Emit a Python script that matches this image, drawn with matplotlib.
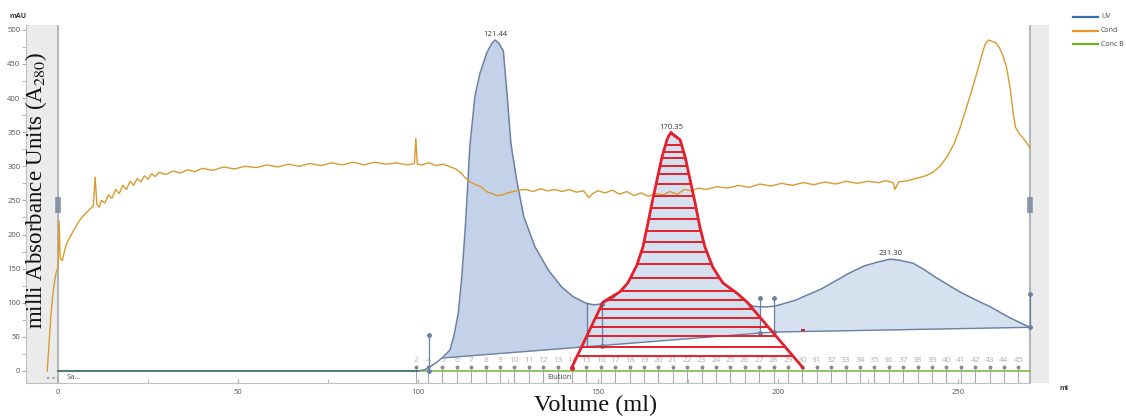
import numpy as np
import matplotlib.pyplot as plt
from matplotlib.lines import Line2D

plt.rcParams['font.family'] = ['Open Sans', 'DejaVu Sans']
plt.rcParams['mathtext.fontset'] = 'stix'

# UV trace (mAU) vs volume (ml)
uv_ml = [0, 50, 100, 102, 103, 105, 106.7, 108, 108.9, 110, 111.2, 112.2, 113.1, 113.8, 114.4,
         115.8, 117.2, 119.1, 120.5, 121.44, 122.5, 123.7, 124.8, 125.8, 127.4, 129.4, 132.5,
         136.2, 139.9, 143.1, 146.4, 147.0, 147.8, 149, 150.5, 152, 154, 156.1, 158.3, 160.8,
         162.5, 163.9, 165.0, 166.4, 167.8, 169.2, 170.35, 171.5, 172.8, 174.2, 175.6, 177.0,
         178.3, 179.7, 181.9, 184.7, 188.6, 191.4, 193, 195, 197, 199, 200.5, 205, 208, 212,
         216, 220, 224, 228, 231.3, 234, 237.5, 240.5, 243.6, 247, 250.5, 255, 259, 264.4, 270]
uv_val = [0, 0, 0, 2, 5, 12, 19, 26, 31, 52, 85, 140, 207, 270, 329,
          402, 436, 466, 480, 485, 480, 469, 402, 334, 280, 226, 182,
          148, 123, 109, 100, 99, 98, 97, 98, 101, 106, 116, 129, 155,
          182, 217, 246, 280, 314, 339, 349, 346, 339, 314, 280, 246,
          211, 182, 152, 129, 114, 101, 95, 94, 94, 95, 97, 104, 111, 120,
          132, 144, 154, 160, 164, 162, 158, 149, 138, 127, 116, 104, 94, 78, 64]

# integration baseline
base_ml = [106.7, 198.5, 270]
base_val = [19, 57, 64]

# conductivity trace
cond_ml = [-3.0, -2.5, -2, -1.5, -1, -0.5, 0, 0.3, 0.6, 1.2, 2.0, 2.5, 3.5, 5, 6, 7.5, 9, 9.8,
           10.3, 10.8, 11.5, 12, 13, 14, 15, 16, 17, 18, 19, 20, 21, 22, 23, 24, 25, 26, 27, 28,
           30, 32, 34, 36, 38, 40, 43, 46, 49, 52, 55, 58, 61, 64, 67, 70, 73, 76, 79, 82, 85,
           88, 91, 94, 97, 99, 99.4, 99.8, 101, 103, 105, 107, 109, 110.5, 112, 113, 114.5, 116,
           117.5, 119, 120.5, 122, 123.5, 125, 126.5, 128, 130, 132, 134, 136, 138, 140, 142,
           144, 146, 147.5, 148.5, 150, 152, 154, 156, 158, 160, 162, 164, 166, 168, 170, 172,
           174, 176, 178, 180, 183, 186, 189, 192, 195, 198, 201, 204, 207, 210, 213, 216, 219,
           222, 225, 228, 230, 232, 232.5, 233.5, 236, 239, 241, 243, 245, 247, 249, 250.5, 252,
           253.5, 255, 256.5, 257.5, 258.5, 259.5, 260.5, 261.5, 262.5, 263.5, 264.5, 265.3, 266,
           267, 268, 269, 270]
cond_val = [0, 40, 80, 110, 130, 145, 152, 220, 165, 162, 180, 188, 198, 212, 221, 230, 238, 242,
            284, 244, 240, 250, 246, 258, 253, 266, 260, 272, 266, 278, 272, 282, 277, 286, 281,
            289, 285, 291, 288, 293, 290, 295, 292, 297, 294, 299, 296, 300, 298, 302, 299, 303,
            300, 304, 301, 305, 302, 306, 302, 306, 303, 305, 302, 304, 341, 303, 302, 305, 301,
            303, 299, 296, 290, 284, 277, 273, 270, 263, 260, 257, 258, 261, 263, 265, 266, 263,
            267, 264, 266, 263, 266, 262, 264, 254, 260, 264, 261, 265, 259, 263, 257, 261, 256,
            260, 258, 263, 259, 266, 264, 268, 266, 270, 268, 272, 269, 274, 271, 275, 272, 276,
            273, 277, 274, 278, 275, 278, 276, 279, 276, 266, 277, 279, 283, 286, 291, 300, 314,
            334, 355, 380, 405, 432, 460, 478, 485, 483, 481, 474, 462, 445, 415, 380, 357, 348,
            342, 335, 327]

# red annotation outline (left and right edges)
red_left_ml = [142.7, 151.4, 156.1, 158.3, 160.8, 162.5, 163.9, 165.0, 166.4, 167.8, 169.2, 169.8, 170.35]
red_left_val = [5, 101, 116, 129, 155, 182, 217, 246, 280, 314, 339, 346, 349]
red_right_ml = [170.35, 170.9, 172.8, 174.2, 175.6, 177.0, 178.3, 179.7, 181.9, 184.7, 188.6, 191.4, 207.0]
red_right_val = [349, 346, 339, 314, 280, 246, 211, 182, 152, 129, 114, 101, 4.4]
hatch_levels = [331, 321, 312, 301, 289, 274, 257, 239, 223, 205, 189, 174, 157, 136, 117,
                104, 91, 78, 65, 51, 35, 22]

peaks_ml = [121.44, 170.35, 231.30]
peaks_val = [485, 349, 164]

frac_labels = ['2', '4'] + [str(n) for n in range(5, 46)]
frac_pos = [99.4, 102.8, 106.8, 110.8, 114.8, 118.8, 122.8, 126.8, 130.8, 134.8, 138.8, 142.8,
            146.8, 150.8, 154.8, 158.8, 162.8, 166.8, 170.8, 174.8, 178.8, 182.8, 186.8, 190.8,
            194.8, 198.8, 202.8, 206.8, 210.8, 214.8, 218.8, 222.8, 226.8, 230.8, 234.8, 238.8,
            242.8, 246.8, 250.8, 254.8, 258.8, 262.8, 266.8]

# peak window markers: (ml, bottom, top)
markers = [(103, 0, 53), (151, 36, 98), (195, 56, 107), (199, 57, 107), (270, 64, 113)]

uv_col = '#6a80a4'
cond_col = '#d99a30'
green = '#7cbf3f'

fig = plt.figure(figsize=(11.26, 4.17), dpi=100)
ax = fig.add_axes([26/1126, 34/417, 1023/1126, 358/417])
ax.set_xlim(-8.9, 275.3)
ax.set_ylim(-17.6, 507)

ax.axvspan(-8.9, 0, color='#ebebeb', zorder=0, lw=0)
ax.axvspan(270, 275.3, color='#ebebeb', zorder=0, lw=0)
ax.axvline(0, color='#a3a8b0', lw=1.2, zorder=1)
ax.axvline(270, color='#a3a8b0', lw=1.2, zorder=1)
ax.plot([0, 270], [243, 243], ls='none', marker='|', ms=11, mew=4, color='#8794a6', zorder=6)

uv_ml_a = np.array(uv_ml)
uv_val_a = np.array(uv_val)
base = np.interp(uv_ml_a, base_ml, base_val)
ax.fill_between(uv_ml_a, base, uv_val_a, where=(uv_ml_a >= 106.7) & (uv_ml_a <= 147),
                color='#c3d2e9', lw=0, zorder=1)
ax.fill_between(uv_ml_a, base, uv_val_a, where=(uv_ml_a >= 147) & (uv_ml_a <= 195),
                color='#d6e1f0', lw=0, zorder=1)
ax.fill_between(uv_ml_a, base, uv_val_a, where=(uv_ml_a >= 199),
                color='#d6e1f0', lw=0, zorder=1)
ax.plot(base_ml, base_val, color=uv_col, lw=1, zorder=2)
ax.vlines(147, np.interp(147, base_ml, base_val), np.interp(147, uv_ml, uv_val),
          color=uv_col, lw=1, zorder=2)

# conc B and UV traces
ax.plot([0, 270], [0, 0], color=green, lw=1.2, zorder=2)
ax.plot(uv_ml, uv_val, color=uv_col, lw=1.1, zorder=3)
ax.plot([0, 100], [0, 0], color='#4f7a60', lw=1.2, zorder=3)
ax.plot(cond_ml, cond_val, color=cond_col, lw=1.0, zorder=4)

for m, lo, hi in markers:
    ax.plot([m, m], [lo, hi], color=uv_col, lw=0.9, marker='o', ms=2.5, zorder=5)

# fractions
ax.vlines(frac_pos, -17.6, 6, color='#a8a8a8', lw=0.8, zorder=2)
ax.plot(frac_pos, [6] * len(frac_pos), ls='none', marker='o', ms=1.8, color='#8a8a8a', zorder=2)
for lab, p in zip(frac_labels, frac_pos):
    ax.text(p, 16, lab, ha='center', va='center', fontsize=6, color='#b0b0b0', zorder=2)

ax.text(2.5, -10, 'Sa...', fontsize=5.5, color='#555555', va='center')
ax.text(136, -10, 'Elution', fontsize=5.5, color='#444444', va='center')
ax.plot([-3, -0.5], [-10, -10], ls=':', color='#999999', lw=1.5)

for pm, pv in zip(peaks_ml, peaks_val):
    ax.text(pm, pv + 3, f'{pm:.2f}', ha='center', va='bottom', fontsize=5.5, color='#333333')

# red hatched annotation
red = '#e3202b'
ax.plot(red_left_ml, red_left_val, color=red, lw=2, zorder=7)
ax.plot(red_right_ml, red_right_val, color=red, lw=2, zorder=7)
lx = np.interp(hatch_levels, red_left_val, red_left_ml)
rx = np.interp(hatch_levels, red_right_val[::-1], red_right_ml[::-1])
ax.hlines(hatch_levels, lx, rx, color=red, lw=1.4, zorder=7)
ax.plot([142.7], [5], marker='o', ms=2.5, color=red, zorder=7)
ax.plot([207], [60], marker='_', ms=3, mew=1.5, color=red, zorder=7)

# axes styling
for s in ['top', 'right']:
    ax.spines[s].set_visible(False)
ax.spines['left'].set_color('#c0c0c0')
ax.spines['bottom'].set_color('#c0c0c0')
ax.spines['bottom'].set_bounds(-8.9, 270)
ax.set_yticks(range(0, 501, 50))
ax.set_yticks(range(25, 500, 50), minor=True)
ax.set_xticks([0, 50, 100, 150, 200, 250])
ax.set_xticks([25, 75, 125, 175, 225], minor=True)
ax.tick_params(axis='y', which='both', direction='out', length=3, color='#aaaaaa',
               labelsize=5.5, labelcolor='#555555', pad=1)
ax.tick_params(axis='x', which='both', direction='in', length=3, color='#aaaaaa',
               labelsize=5.5, labelcolor='#555555', pad=4)

fig.text(18/1126, 1 - 17/417, 'mAU', fontsize=5, fontweight='bold', color='#333333',
         ha='center', va='center')
fig.text(1064/1126, 1 - 388/417, 'ml', fontsize=5, fontweight='bold', color='#333333',
         ha='center', va='center')
fig.text(36/1126, 1 - 190/417, r'milli Absorbance Units (A$_{280}$)', rotation=90,
         fontsize=16.5, family='Liberation Serif', ha='center', va='center', color='#111111')
fig.text(596/1126, 1 - 405/417, 'Volume (ml)', fontsize=17.5, family='Liberation Serif',
         ha='center', va='center', color='#111111')

# legend
leg_labels = ['UV', 'Cond', 'Conc B']
leg_colors = ['#3a6db0', '#e8962a', '#6cb123']
for i, (lab, c) in enumerate(zip(leg_labels, leg_colors)):
    yy = 1 - (17 + 13.5 * i) / 417
    fig.add_artist(Line2D([1073/1126, 1098/1126], [yy, yy], color=c, lw=1.6))
    fig.text(1101/1126, yy, lab, fontsize=5, color='#444444', va='center')

fig.savefig('out.png', dpi=100)
